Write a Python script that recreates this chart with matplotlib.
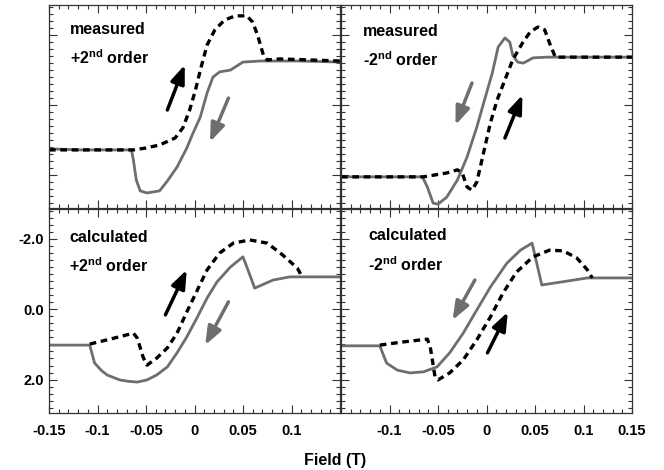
import matplotlib
matplotlib.use('agg')
import matplotlib.pyplot as plt
from matplotlib.ticker import MultipleLocator

plt.rcParams['font.family'] = ['Liberation Sans', 'DejaVu Sans']
plt.rcParams['font.weight'] = 'bold'
plt.rcParams['axes.unicode_minus'] = False
plt.rcParams['mathtext.fontset'] = 'custom'
plt.rcParams['mathtext.bf'] = 'Liberation Sans:bold'
plt.rcParams['mathtext.rm'] = 'Liberation Sans:bold'

# measured, +2nd order
ml_solid_x = [-0.150, -0.118, -0.065, -0.063, -0.060, -0.056, -0.049, -0.036, -0.028, -0.018,
              -0.008, -0.002, 0.006, 0.013, 0.019, 0.026, 0.037, 0.050, 0.068, 0.109, 0.150]
ml_solid_y = [1.26, 1.29, 1.29, 1.58, 2.15, 2.46, 2.52, 2.46, 2.18, 1.78,
              1.24, 0.84, 0.35, -0.34, -0.79, -0.94, -0.99, -1.22, -1.25, -1.25, -1.22]
ml_dash_x = [-0.150, -0.063, -0.051, -0.036, -0.020, -0.012, -0.005, 0.001, 0.006, 0.013,
             0.021, 0.031, 0.042, 0.054, 0.060, 0.065, 0.071, 0.075, 0.088, 0.150]
ml_dash_y = [1.29, 1.29, 1.24, 1.15, 0.95, 0.66, 0.15, -0.42, -0.99, -1.71,
             -2.14, -2.42, -2.54, -2.54, -2.36, -1.99, -1.42, -1.28, -1.31, -1.25]

# measured, -2nd order
mr_solid_x = [-0.150, -0.066, -0.061, -0.055, -0.050, -0.041, -0.030, -0.020, -0.010, -0.002,
              0.006, 0.012, 0.019, 0.024, 0.027, 0.032, 0.038, 0.048, 0.062, 0.150]
mr_solid_y = [2.06, 2.06, 2.35, 2.81, 2.84, 2.64, 2.15, 1.49, 0.64, -0.14,
              -0.91, -1.65, -1.91, -1.79, -1.42, -1.22, -1.19, -1.34, -1.36, -1.36]
mr_dash_x = [-0.150, -0.065, -0.041, -0.030, -0.025, -0.020, -0.015, -0.010, -0.004, 0.004,
             0.011, 0.019, 0.027, 0.037, 0.045, 0.053, 0.060, 0.065, 0.071, 0.086, 0.150]
mr_dash_y = [2.06, 2.06, 1.95, 1.86, 1.95, 2.35, 2.44, 2.21, 1.49, 0.52,
             -0.14, -0.71, -1.28, -1.76, -2.08, -2.22, -2.14, -1.76, -1.36, -1.36, -1.36]

# calculated, +2nd order
cl_solid_x = [-0.150, -0.108, -0.103, -0.096, -0.090, -0.077, -0.068, -0.059, -0.049, -0.039,
              -0.028, -0.018, -0.008, 0.003, 0.013, 0.023, 0.037, 0.050, 0.059, 0.062,
              0.081, 0.098, 0.150]
cl_solid_y = [1.02, 1.02, 1.53, 1.74, 1.87, 2.01, 2.05, 2.07, 2.01, 1.87,
              1.64, 1.24, 0.79, 0.22, -0.32, -0.77, -1.20, -1.49, -0.83, -0.60,
              -0.83, -0.92, -0.92]
cl_dash_x = [-0.108, -0.087, -0.063, -0.059, -0.053, -0.049, -0.039, -0.028, -0.018, -0.008,
             0.003, 0.013, 0.026, 0.040, 0.057, 0.075, 0.091, 0.106, 0.111]
cl_dash_y = [0.99, 0.85, 0.68, 0.82, 1.36, 1.59, 1.39, 1.10, 0.68, 0.08,
             -0.55, -1.12, -1.60, -1.88, -1.97, -1.88, -1.54, -1.17, -0.92]

# calculated, -2nd order
cr_solid_x = [-0.150, -0.110, -0.103, -0.092, -0.079, -0.065, -0.051, -0.038, -0.024, -0.010,
              0.004, 0.021, 0.035, 0.047, 0.057, 0.076, 0.104, 0.150]
cr_solid_y = [1.04, 1.04, 1.53, 1.73, 1.81, 1.78, 1.64, 1.24, 0.68, 0.02,
              -0.63, -1.31, -1.68, -1.88, -0.69, -0.77, -0.89, -0.89]
cr_dash_x = [-0.110, -0.086, -0.061, -0.058, -0.053, -0.050, -0.038, -0.024, -0.010, 0.004,
             0.017, 0.031, 0.048, 0.065, 0.079, 0.093, 0.104, 0.109]
cr_dash_y = [1.02, 0.93, 0.85, 1.07, 1.93, 2.01, 1.81, 1.44, 0.87, 0.22,
             -0.46, -1.06, -1.49, -1.68, -1.66, -1.46, -1.12, -0.89]

# arrows: (x_from, y_from, x_to, y_to, colour)
arrows_ml = [(-0.028, 0.15, -0.010, -1.14, 'black'), (0.035, -0.19, 0.016, 1.06, 'gray')]
arrows_mr = [(-0.015, -0.62, -0.032, 0.58, 'gray'), (0.019, 0.95, 0.037, -0.28, 'black')]
arrows_cl = [(-0.030, 0.16, -0.008, -1.12, 'black'), (0.035, -0.21, 0.011, 1.02, 'gray')]
arrows_cr = [(-0.012, -0.83, -0.035, 0.31, 'gray'), (0.001, 1.24, 0.022, 0.08, 'black')]

labels = ['measured', 'measured', 'calculated', 'calculated']
orders = [r'+2$^{\mathbf{nd}}$ order', r'-2$^{\mathbf{nd}}$ order',
          r'+2$^{\mathbf{nd}}$ order', r'-2$^{\mathbf{nd}}$ order']

fig = plt.figure(figsize=(6.64, 4.70), dpi=100)
W, H = 664.0, 470.0
boxes = [(49, 5, 291, 203), (341, 5, 291, 203), (49, 209, 291, 204), (341, 209, 291, 204)]
axs = [fig.add_axes([x / W, 1 - (y + h) / H, w / W, h / H]) for x, y, w, h in boxes]

data = [(ml_solid_x, ml_solid_y, ml_dash_x, ml_dash_y, arrows_ml),
        (mr_solid_x, mr_solid_y, mr_dash_x, mr_dash_y, arrows_mr),
        (cl_solid_x, cl_solid_y, cl_dash_x, cl_dash_y, arrows_cl),
        (cr_solid_x, cr_solid_y, cr_dash_x, cr_dash_y, arrows_cr)]
text_pos = [(0.072, 0.877, 0.739), (0.076, 0.867, 0.729),
            (0.069, 0.858, 0.720), (0.093, 0.868, 0.725)]

grey = '#6e6e6e'
for i, ax in enumerate(axs):
    sx, sy, dx, dy, arr = data[i]
    ax.plot(sx, sy, '-', color=grey, lw=2.0, solid_capstyle='round', solid_joinstyle='round')
    ax.plot(dx, dy, color='black', lw=2.4, dashes=(2.0, 1.4))
    for x0, y0, x1, y1, c in arr:
        col = 'black' if c == 'black' else grey
        ax.annotate('', xy=(x1, y1), xytext=(x0, y0),
                    arrowprops=dict(arrowstyle='-|>,head_length=0.65,head_width=0.25',
                                    color=col, lw=2.5, mutation_scale=17,
                                    shrinkA=0, shrinkB=0))
    tx, ty1, ty2 = text_pos[i]
    ax.text(tx, ty1, labels[i], transform=ax.transAxes, fontsize=11.5,
            fontweight='bold', va='center', ha='left')
    ax.text(tx, ty2, orders[i], transform=ax.transAxes, fontsize=11.5,
            fontweight='bold', va='center', ha='left')

    ax.set_xlim(-0.15, 0.15)
    ax.set_ylim(2.95, -2.85)
    ax.xaxis.set_major_locator(MultipleLocator(0.05))
    ax.xaxis.set_minor_locator(MultipleLocator(0.01))
    ax.yaxis.set_major_locator(MultipleLocator(2.0))
    ax.yaxis.set_minor_locator(MultipleLocator(0.2))
    ax.tick_params(which='both', direction='in', top=True, right=True,
                   labelsize=10.5, color='#333333')
    ax.tick_params(which='major', length=6, width=0.8)
    ax.tick_params(which='minor', length=3, width=0.8)
    for s in ax.spines.values():
        s.set_linewidth(0.9)
        s.set_color('#333333')

    if i < 2:
        ax.set_xticklabels([])
    if i != 2:
        ax.set_yticklabels([])

axs[2].set_xticks([-0.15, -0.1, -0.05, 0, 0.05, 0.1])
axs[2].set_xticklabels(['-0.15', '-0.1', '-0.05', '0', '0.05', '0.1'], fontweight='bold')
axs[2].set_xlim(-0.15, 0.15)
axs[3].set_xticks([-0.1, -0.05, 0, 0.05, 0.1, 0.15])
axs[3].set_xticklabels(['-0.1', '-0.05', '0', '0.05', '0.1', '0.15'], fontweight='bold')
axs[3].set_xlim(-0.15, 0.15)
axs[2].set_yticks([-2.0, 0.0, 2.0])
axs[2].set_yticklabels(['-2.0', '0.0', '2.0'], fontweight='bold')
axs[2].set_ylim(2.95, -2.85)
for ax in axs[2:]:
    ax.tick_params(axis='x', pad=8)

fig.text(335 / W, 1 - 461 / H, 'Field (T)', fontsize=11.5, fontweight='bold',
         ha='center', va='center')

fig.savefig('out.png', dpi=100)
